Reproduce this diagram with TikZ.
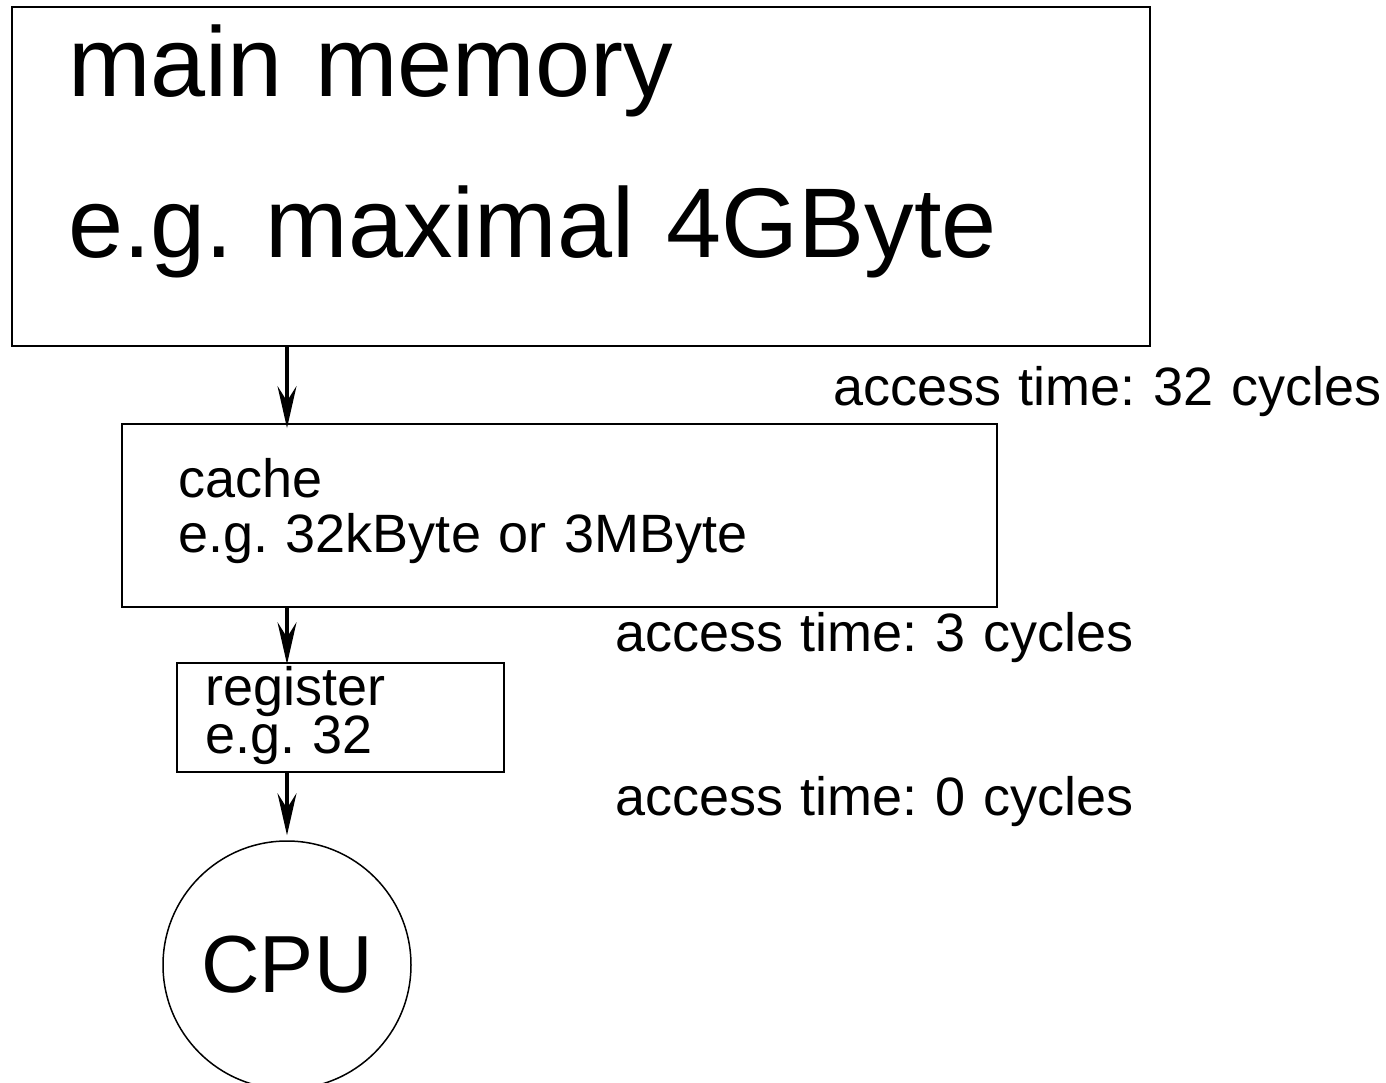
\documentclass[tikz,border=0pt]{standalone}
\usepackage{fontspec}
\setmainfont{Liberation Sans}[WordSpace=1.18]
\usetikzlibrary{arrows.meta}
\begin{document}
\frenchspacing
\begin{tikzpicture}[x=1pt,y=-1pt,
  box/.style={draw,rectangle,inner sep=0pt,anchor=center},
  big/.style={font=\fontsize{99}{99}\selectfont,anchor=base west,inner sep=0pt},
  small/.style={font=\fontsize{54}{54}\selectfont,anchor=base west,inner sep=0pt},
  flow/.style={line width=3.5pt,-{Stealth[length=42pt,width=19pt,inset=15pt]}}]
\useasboundingbox (0,0) rectangle (1386,1083);
% memory hierarchy boxes
\node[box,line width=2pt,minimum width=1138pt,minimum height=339pt] (main) at (581,176.5) {};
\node[box,line width=1.8pt,minimum width=875pt,minimum height=183pt] (cache) at (559.5,515.5) {};
\node[box,line width=1.5pt,minimum width=327pt,minimum height=109pt] (reg) at (340.5,717.5) {};
\node[draw,circle,line width=1.5pt,minimum size=248pt,inner sep=0pt,
      font=\fontsize{81}{81}\selectfont] (cpu) at (287,965) {CPU};
% labels inside the boxes
\node[big] (mainA) at (68,97) {main memory};
\node[big] (mainB) at (68,258) {e.g. maximal 4GByte};
\node[small] (cacheA) at (178,497) {cache};
\node[small] (cacheB) at (178,552) {e.g. 32kByte or 3MByte};
\node[small] (regA) at (205,705) {register};
\node[small] (regB) at (205,753) {e.g. 32};
% access times between the levels
\node[small] (t32) at (833,405) {access time: 32 cycles};
\node[small] (t3) at (615,651) {access time: 3 cycles};
\node[small] (t0) at (615,815) {access time: 0 cycles};
% data flow towards the CPU
\draw[flow] (main.south -| cpu.north) -- ([yshift=-5pt]cache.north -| cpu.north);
\draw[flow] (cache.south -| cpu.north) -- ([yshift=-2pt]reg.north -| cpu.north);
\draw[flow] (reg.south -| cpu.north) -- ([yshift=5pt]cpu.north);
\end{tikzpicture}
\end{document}
